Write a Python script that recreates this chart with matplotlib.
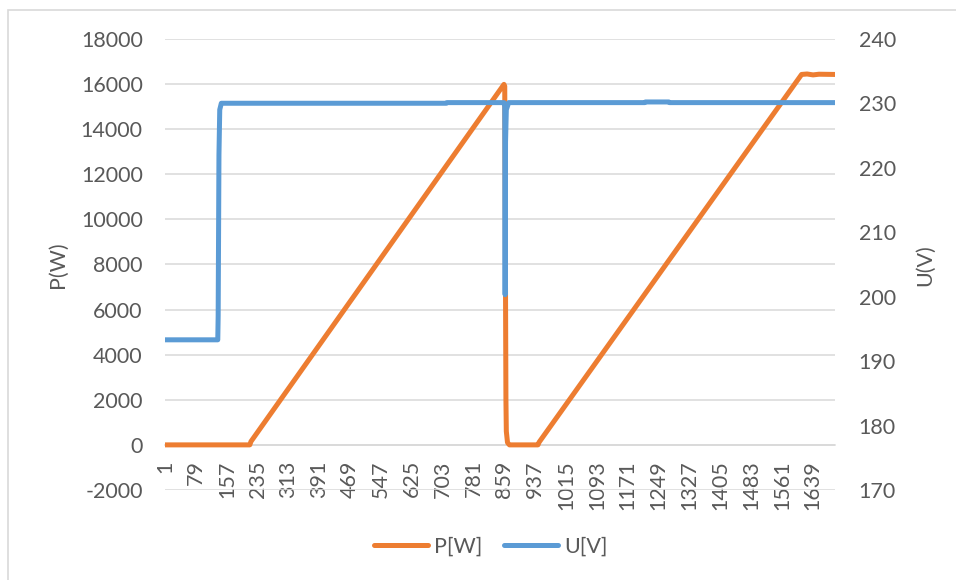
import matplotlib
matplotlib.use('Agg')
import matplotlib.pyplot as plt
from matplotlib.patches import Rectangle
from matplotlib.lines import Line2D

# number of samples on the category axis
n_points = 1695

# P[W] breakpoints (sample no., watts)
p_idx = [1, 215, 218, 858, 860, 862, 863, 864, 867, 872, 944, 947, 1611, 1625, 1640, 1655, 1695]
p_val = [0, 0, 150, 15980, 15900, 6600, 2000, 600, 100, 0, 0, 120, 16420, 16440, 16400, 16430, 16420]

# U[V] breakpoints (sample no., volts)
u_idx = [1, 134, 135, 137, 139, 143, 712, 714, 858, 860, 861, 862, 864, 870,
         1214, 1216, 1275, 1277, 1695]
u_val = [193.3, 193.3, 197, 222, 229, 230.0, 230.0, 230.1, 230.1, 229.5, 200.3, 224, 229, 230.1,
         230.1, 230.2, 230.2, 230.1, 230.1]

x_ticks = list(range(1, 1640, 78))
p_ticks = list(range(-2000, 18001, 2000))
u_ticks = list(range(170, 241, 10))

ORANGE = '#ED7D31'
BLUE = '#5B9BD5'
GRID = '#D9D9D9'
TEXT = '#595959'
FS = 15.5

plt.rcParams['font.family'] = ['Lato', 'DejaVu Sans']
plt.rcParams['axes.unicode_minus'] = False

fig = plt.figure(figsize=(9.56, 5.8), dpi=100)

# chart area border (only left/top visible in the crop)
fig.patches.append(Rectangle((8 / 956, -0.1), 2, (1 - 10 / 580) + 0.1, transform=fig.transFigure,
                             fill=False, edgecolor=GRID, linewidth=1.2))

pos = [165 / 956, 90 / 580, 670 / 956, 451.2 / 580]
ax = fig.add_axes(pos)
ax.set_xlim(0.5, n_points + 0.5)
ax.set_ylim(-2000, 18000)
ax.set_yticks(p_ticks)
ax.grid(axis='y', color=GRID, linewidth=1.1)
ax.set_axisbelow(True)
for s in ['top', 'right', 'left']:
    ax.spines[s].set_visible(False)
ax.spines['bottom'].set_position(('data', 0))
ax.spines['bottom'].set_color(GRID)
ax.spines['bottom'].set_linewidth(1.1)
ax.spines['bottom'].set_zorder(0.5)
ax.set_xticks(x_ticks)
ax.set_xticklabels([str(t) for t in x_ticks])
ax.tick_params(axis='y', length=0, pad=16, labelsize=FS, labelcolor=TEXT)
ax.tick_params(axis='x', length=0, pad=11, labelsize=FS, labelcolor=TEXT, labelrotation=90)
ax.plot(p_idx, p_val, color=ORANGE, linewidth=3.6, solid_capstyle='round',
        solid_joinstyle='round', zorder=3)

# secondary axis for U
ax2 = ax.twinx()
ax2.set_ylim(170, 240)
ax2.set_yticks(u_ticks)
for s in ax2.spines.values():
    s.set_visible(False)
ax2.tick_params(axis='y', length=0, pad=17, labelsize=FS, labelcolor=TEXT)
ax2.plot(u_idx, u_val, color=BLUE, linewidth=3.6, solid_capstyle='round',
         solid_joinstyle='round', zorder=3)

fig.text(58 / 956, 1 - 265 / 580, 'P(W)', rotation=90, ha='center', va='center', fontsize=FS, color=TEXT)
fig.text(925 / 956, 1 - 265 / 580, 'U(V)', rotation=90, ha='center', va='center', fontsize=FS, color=TEXT)

handles = [Line2D([], [], color=ORANGE, linewidth=3.6, solid_capstyle='round'),
           Line2D([], [], color=BLUE, linewidth=3.6, solid_capstyle='round')]
fig.legend(handles, ['P[W]', 'U[V]'], loc='center', bbox_to_anchor=(491 / 956, 1 - 547 / 580),
           ncol=2, frameon=False, fontsize=FS, labelcolor=TEXT, handlelength=2.5,
           handletextpad=0.3, columnspacing=1.0)

fig.savefig('out.png', dpi=100)
